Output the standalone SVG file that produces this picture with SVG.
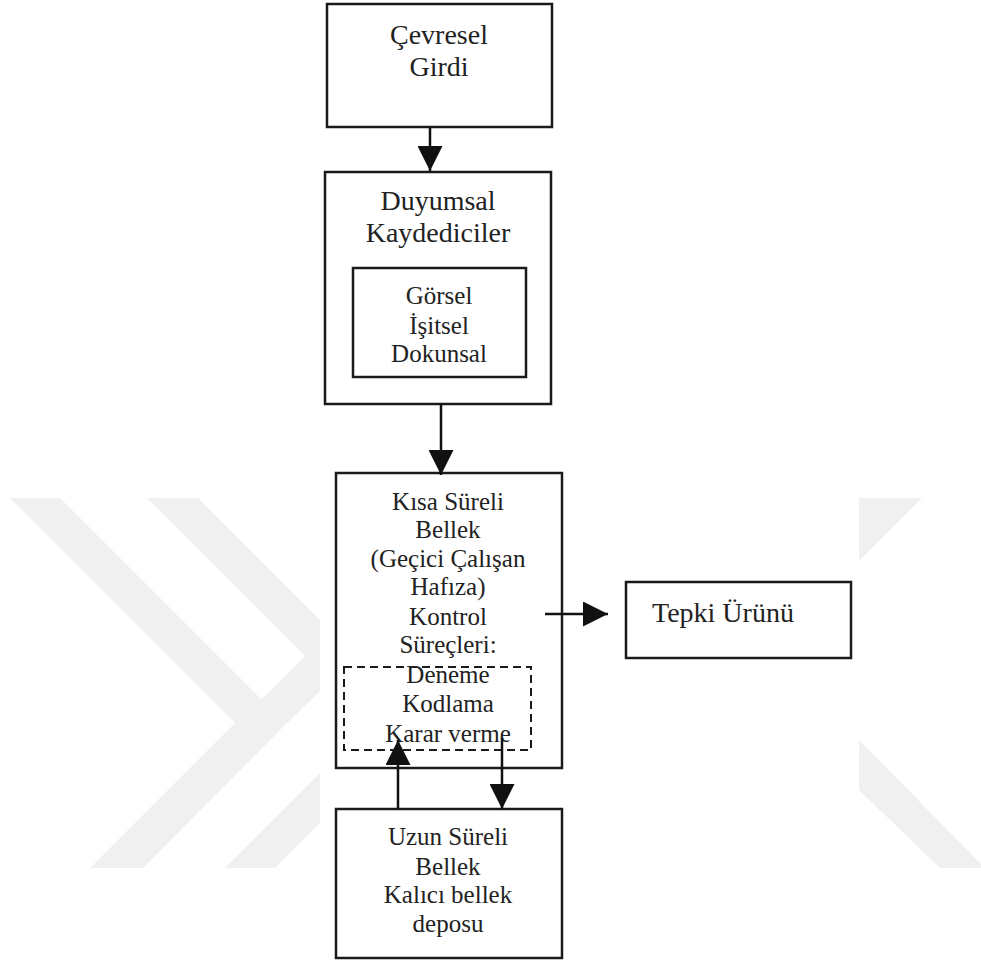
<svg xmlns="http://www.w3.org/2000/svg" width="981" height="963" viewBox="0 0 981 963">
<defs>
<style>
.box{fill:none;stroke:#1a1a1a;stroke-width:2.5}
.dash{fill:none;stroke:#1a1a1a;stroke-width:2;stroke-dasharray:8 5}
.wm{fill:#f0f0f0;stroke:none}
.t{font-family:"Liberation Serif","Times New Roman",serif;fill:#222;text-anchor:middle}
.big{font-size:28px}
.mid{font-size:25px}
.conn{stroke:#111;stroke-width:2.5;fill:none;marker-end:url(#ah)}
</style>
<marker id="ah" markerUnits="userSpaceOnUse" markerWidth="25" markerHeight="25" viewBox="0 0 25 25" refX="25" refY="12.5" orient="auto">
<path d="M0,0 L25,12.5 L0,25 Z" fill="#111"/>
</marker>
</defs>
<rect width="981" height="963" fill="#ffffff"/>
<g id="watermark">
<polygon class="wm" points="10,498 60,498 286,724 143,868 90,868 235,723"/>
<polygon class="wm" points="261,700 320,641 320,691 286,724"/>
<polygon class="wm" points="147,498 198,498 320,620 320,641 305,656"/>
<polygon class="wm" points="225,868 275,868 320,823 320,773"/>
<polygon class="wm" points="859,498 922,498 859,561"/>
<polygon class="wm" points="859,740 981,864 981,868 940,868 859,790"/>
</g>
<g id="node-cevresel">
<rect class="box" x="327" y="4" width="225" height="123"/>
<text class="t big" x="439" y="44">Çevresel</text>
<text class="t big" x="439" y="76">Girdi</text>
</g>
<g id="node-duyumsal">
<rect class="box" x="325" y="172" width="226" height="232"/>
<text class="t big" x="438" y="210">Duyumsal</text>
<text class="t big" x="438" y="242">Kaydediciler</text>
<rect class="box" x="353" y="268" width="173" height="109"/>
<text class="t mid" x="439" y="304">Görsel</text>
<text class="t mid" x="439" y="334">İşitsel</text>
<text class="t mid" x="439" y="362">Dokunsal</text>
</g>
<g id="node-kisa">
<rect class="box" x="336" y="473" width="226" height="295"/>
<text class="t mid" x="448" y="510">Kısa Süreli</text>
<text class="t mid" x="448" y="538">Bellek</text>
<text class="t mid" x="448" y="567">(Geçici Çalışan</text>
<text class="t mid" x="448" y="595">Hafıza)</text>
<text class="t mid" x="448" y="625">Kontrol</text>
<text class="t mid" x="448" y="653">Süreçleri:</text>
<rect class="dash" x="344" y="667" width="187" height="83"/>
<text class="t mid" x="448" y="683">Deneme</text>
<text class="t mid" x="448" y="712">Kodlama</text>
<text class="t mid" x="448" y="742">Karar verme</text>
</g>
<g id="node-tepki">
<rect class="box" x="626" y="582" width="225" height="76"/>
<text class="t big" x="652" y="622" style="text-anchor:start">Tepki Ürünü</text>
</g>
<g id="node-uzun">
<rect class="box" x="336" y="809" width="226" height="149"/>
<text class="t mid" x="448" y="845">Uzun Süreli</text>
<text class="t mid" x="448" y="875">Bellek</text>
<text class="t mid" x="448" y="903">Kalıcı bellek</text>
<text class="t mid" x="448" y="932">deposu</text>
</g>
<g id="connectors">
<line class="conn" x1="430" y1="127" x2="430" y2="171"/>
<line class="conn" x1="441" y1="404" x2="441" y2="475"/>
<line class="conn" x1="545" y1="614" x2="608" y2="614"/>
<line class="conn" x1="398" y1="809" x2="398" y2="740"/>
<line class="conn" x1="502" y1="738" x2="502" y2="809"/>
</g>
</svg>
